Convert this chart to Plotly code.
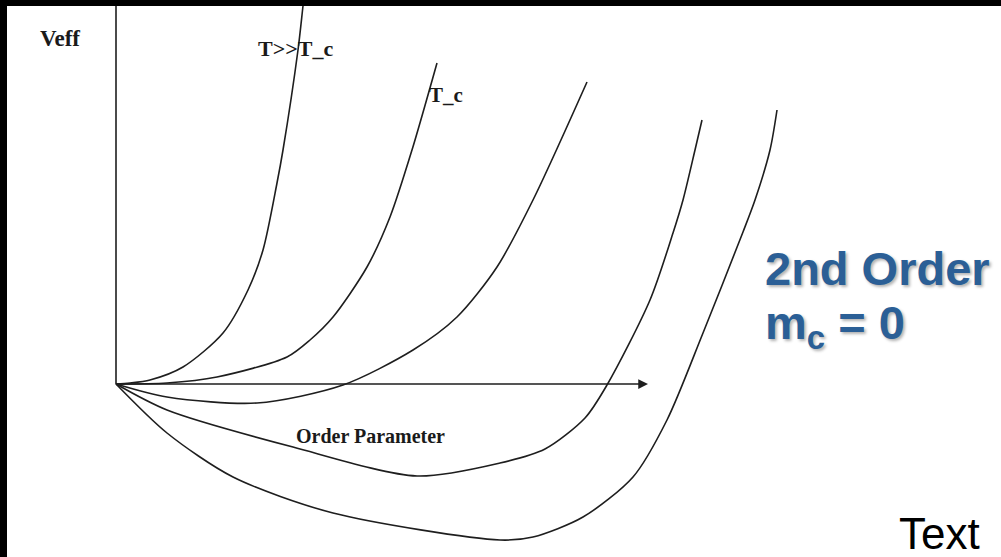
import plotly.graph_objects as go

# Curves of Veff vs order parameter (origin at axes crossing)
c1_x = [0, 0.14, 0.34, 0.67, 1.07, 1.32, 1.47, 1.61, 1.67, 1.82, 1.87, 1.89]
c1_y = [0, 0.01, 0.04, 0.17, 0.51, 0.94, 1.34, 2.01, 2.34, 3.34, 3.78, 3.95]

c2_x = [0, 0.51, 1.01, 1.71, 1.94, 2.17, 2.51, 2.74, 2.96, 3.21]
c2_y = [0, 0.01, 0.07, 0.27, 0.44, 0.67, 1.17, 1.67, 2.34, 3.21]

c3_x = [0, 0.51, 1.41, 2.27, 2.97, 3.41, 3.81, 4.17, 4.71]
c3_y = [0, -0.13, -0.19, -0.01, 0.34, 0.67, 1.17, 1.84, 3.02]

c4_x = [0, 0.51, 1.77, 3.01, 3.84, 4.29, 4.69, 4.91, 5.34, 5.57, 5.67, 5.79, 5.86]
c4_y = [0, -0.26, -0.63, -0.92, -0.79, -0.65, -0.34, -0.01, 0.84, 1.51, 1.84, 2.34, 2.64]

c5_x = [0, 0.51, 1.17, 2.17, 3.84, 4.17, 4.67, 5.17, 5.51, 5.87, 6.27, 6.39, 6.54, 6.61]
c5_y = [0, -0.49, -0.93, -1.29, -1.56, -1.53, -1.33, -0.93, -0.36, 0.51, 1.52, 1.84, 2.34, 2.74]

curves = [(c1_x, c1_y), (c2_x, c2_y), (c3_x, c3_y), (c4_x, c4_y), (c5_x, c5_y)]

fig = go.Figure()
for cx, cy in curves:
    fig.add_trace(go.Scatter(x=cx, y=cy, mode="lines",
                             line=dict(color="#1e1e1e", width=1.6, shape="spline", smoothing=0.8),
                             hoverinfo="skip", showlegend=False))

serif = "Liberation Serif"
lab = dict(family=serif, size=21, color="#1a1a1a", weight="bold")
blue = dict(family="Liberation Sans", size=47, color="#2b5f96", weight="bold",
            shadow="2px 2px 3px rgba(0,0,0,0.3)")

annotations = [
    # x-axis with arrow
    dict(x=5.32, y=0, ax=0, ay=0, xref="x", yref="y", axref="x", ayref="y",
         showarrow=True, arrowhead=2, arrowsize=1.3, arrowwidth=1.5, arrowcolor="#1e1e1e", text=""),
    dict(x=-0.56, y=3.46, text="Veff", showarrow=False, font=dict(family=serif, size=23, color="#1a1a1a", weight="bold")),
    dict(x=1.79, y=3.36, text="T>>T_c", showarrow=False, font=dict(family=serif, size=22, color="#1a1a1a", weight="bold")),
    dict(x=3.30, y=2.89, text="T_c", showarrow=False, font=lab),
    dict(x=2.54, y=-0.52, text="Order Parameter", showarrow=False, font=dict(family=serif, size=20, color="#1a1a1a", weight="bold")),
    dict(x=6.47, y=1.16, text="2nd Order", showarrow=False, xanchor="left", yanchor="middle", font=blue),
    dict(x=6.47, y=0.58, text="m<sub>c</sub> = 0", showarrow=False, xanchor="left", yanchor="middle", font=blue),
    dict(x=7.81, y=-1.49, text="Text", showarrow=False, xanchor="left", yanchor="middle",
         font=dict(family="Liberation Sans", size=44, color="#000000")),
]

shapes = [
    # y-axis
    dict(type="line", xref="x", yref="y", x0=0, y0=0, x1=0, y1=4.0, line=dict(color="#1e1e1e", width=1.6)),
    # black frame bands (left, top)
    dict(type="rect", xref="paper", yref="paper", x0=0, x1=7/1001, y0=0, y1=1,
         fillcolor="black", line=dict(width=0), layer="above"),
    dict(type="rect", xref="paper", yref="paper", x0=0, x1=1, y0=1-6/557, y1=1,
         fillcolor="black", line=dict(width=0), layer="above"),
]

fig.update_layout(
    width=1001, height=557,
    margin=dict(l=0, r=0, t=0, b=0),
    paper_bgcolor="white", plot_bgcolor="white",
    xaxis=dict(range=[-1.16, 8.85], visible=False, fixedrange=True),
    yaxis=dict(range=[-1.73, 3.84], visible=False, fixedrange=True),
    annotations=annotations, shapes=shapes, showlegend=False,
)

fig.write_html("out.html", config={"displayModeBar": False},
               post_script="document.body.style.margin='0';document.body.style.overflow='hidden';")
